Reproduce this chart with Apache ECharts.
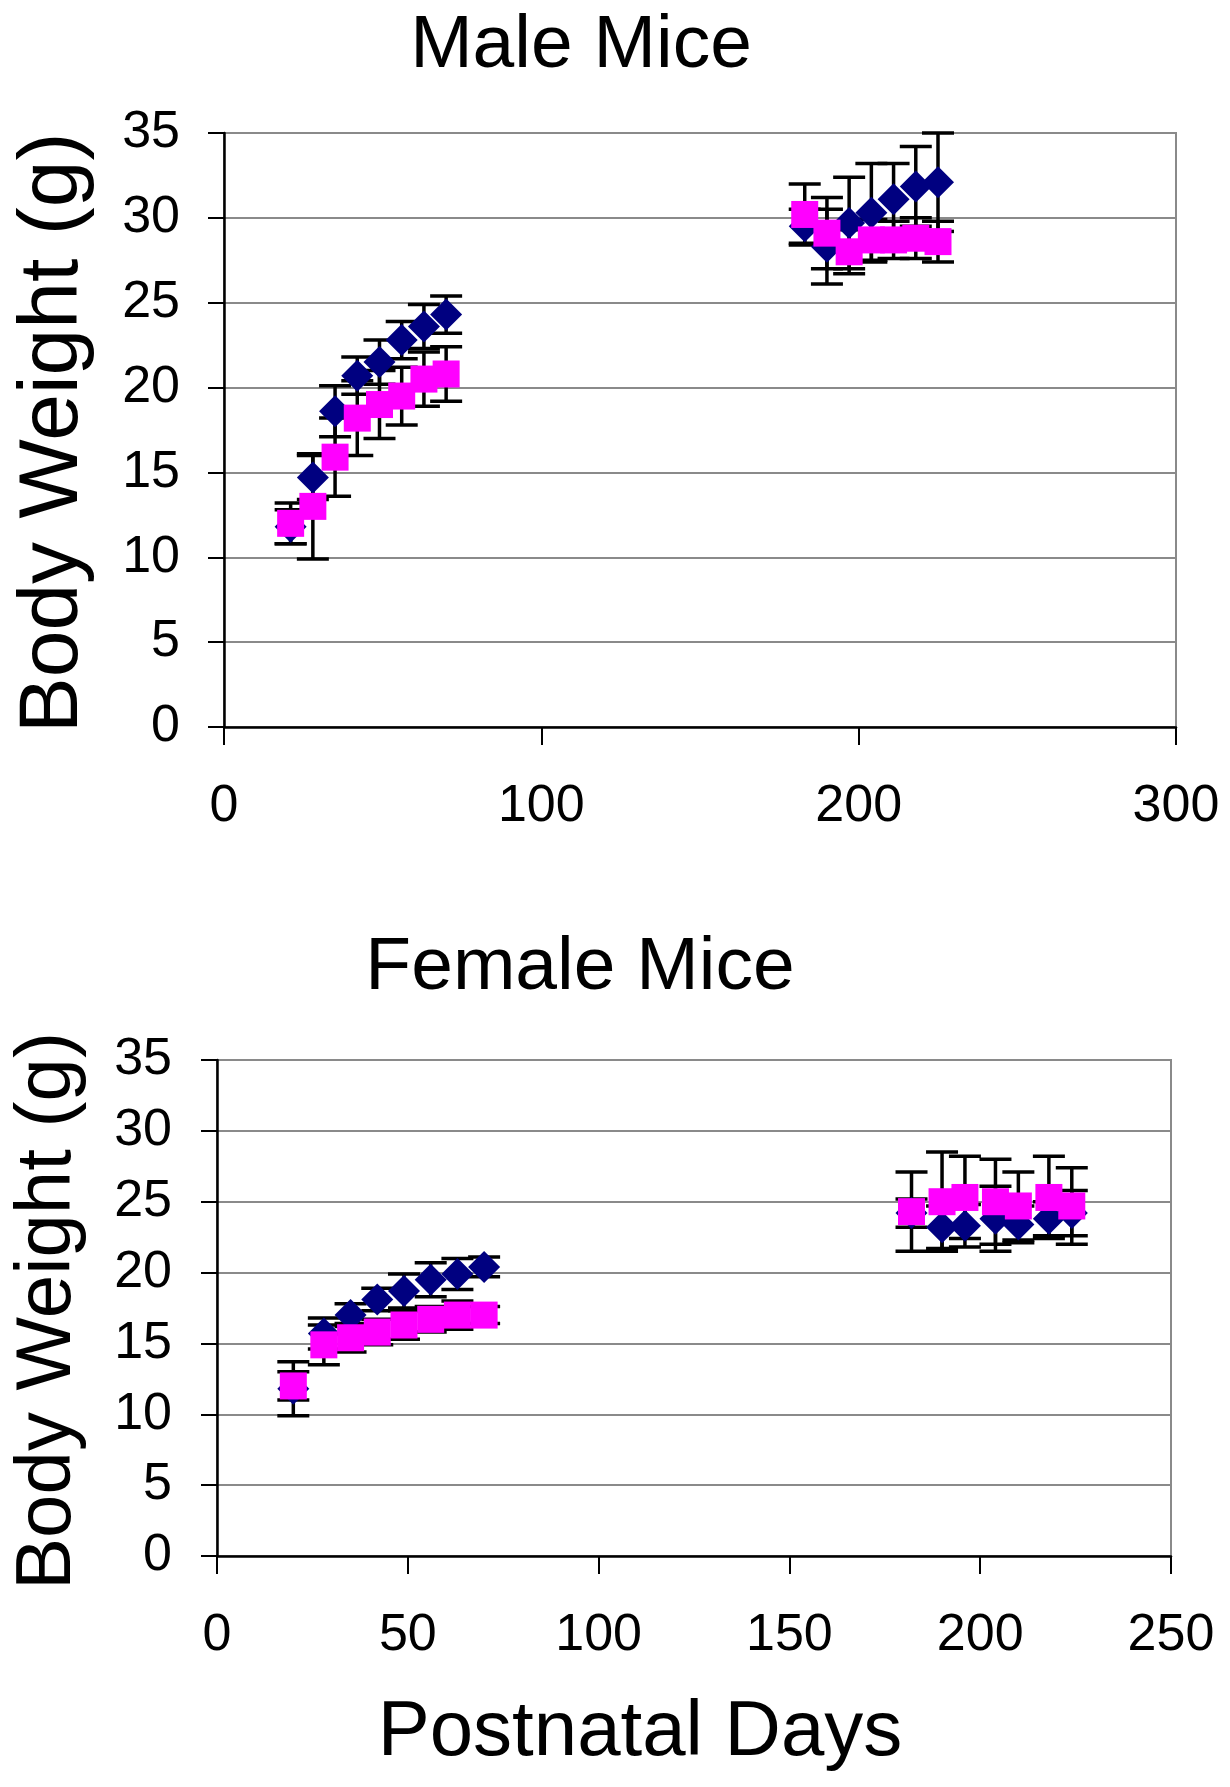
<!DOCTYPE html>
<html>
<head>
<meta charset="utf-8">
<script src="https://cdn.jsdelivr.net/npm/echarts@6/dist/echarts.min.js"></script>
<style>
  html, body { margin: 0; background: #fff; }
  #chart { width: 1230px; height: 1787px; }
</style>
</head>
<body>
<div id="chart"></div>
<script>
// male mice: postnatal day, mean weight (g) and error
const maleDays = [21, 28, 35, 42, 49, 56, 63, 70, 183, 190, 197, 204, 211, 218, 225];
const maleBlue = [11.8, 14.7, 18.6, 20.7, 21.5, 22.8, 23.6, 24.3, 29.5, 28.3, 29.7, 30.3, 31.1, 31.85, 32.1];
const maleBlueErr = [1.0, 1.3, 1.5, 1.1, 1.3, 1.1, 1.3, 1.1, 1.0, 2.2, 2.7, 2.9, 2.1, 2.35, 2.9];
const malePink = [12.0, 13.0, 15.9, 18.2, 19.0, 19.5, 20.5, 20.8, 30.2, 29.1, 28.0, 28.7, 28.7, 28.8, 28.6];
const malePinkErr = [1.2, 3.1, 2.3, 2.2, 2.0, 1.7, 1.6, 1.6, 1.8, 2.1, 1.3, 1.2, 1.1, 1.2, 1.2];

// female mice
const femaleDays = [20, 28, 35, 42, 49, 56, 63, 70, 182, 190, 196, 204, 210, 218, 224];
const femaleBlue = [11.8, 15.7, 17.0, 18.1, 18.7, 19.5, 19.9, 20.4, 24.2, 23.2, 23.3, 23.8, 23.4, 23.8, 24.2];
const femaleBlueErr = [1.9, 1.1, 0.8, 0.8, 1.2, 1.2, 1.1, 0.7, 1.0, 1.5, 1.5, 2.3, 1.3, 1.2, 1.6];
const femalePink = [12.0, 14.9, 15.4, 15.8, 16.3, 16.7, 17.0, 17.0, 24.3, 25.0, 25.3, 25.0, 24.7, 25.3, 24.7];
const femalePinkErr = [1.0, 1.4, 1.0, 0.9, 1.0, 0.9, 1.0, 0.6, 2.8, 3.5, 2.9, 3.0, 2.4, 2.9, 2.7];

const maleXTicks = [0, 100, 200, 300];
const femaleXTicks = [0, 50, 100, 150, 200, 250];
const yTicks = [0, 5, 10, 15, 20, 25, 30, 35];

const FONT = "'Liberation Sans', Arial, sans-serif";

function points(days, vals) {
  return days.map((d, i) => [d, vals[i]]);
}
function errRows(days, vals, err) {
  return days.map((d, i) => [d, vals[i] - err[i], vals[i] + err[i]]);
}

function renderErr(params, api) {
  const x = api.value(0);
  const top = api.coord([x, api.value(2)]);
  const bot = api.coord([x, api.value(1)]);
  const hw = 16;
  const style = { stroke: '#000', lineWidth: 3.5 };
  return {
    type: 'group',
    children: [
      { type: 'line', shape: { x1: top[0], y1: top[1], x2: bot[0], y2: bot[1] }, style: style },
      { type: 'line', shape: { x1: top[0] - hw, y1: top[1], x2: top[0] + hw, y2: top[1] }, style: style },
      { type: 'line', shape: { x1: bot[0] - hw, y1: bot[1], x2: bot[0] + hw, y2: bot[1] }, style: style }
    ]
  };
}

function errSeries(idx, days, vals, err) {
  return {
    type: 'custom',
    xAxisIndex: idx,
    yAxisIndex: idx,
    data: errRows(days, vals, err),
    encode: { x: 0, y: [1, 2] },
    renderItem: renderErr,
    clip: false,
    silent: true,
    z: 1
  };
}

function xAxis(idx, ticks) {
  return {
    type: 'value',
    gridIndex: idx,
    min: ticks[0],
    max: ticks[ticks.length - 1],
    interval: ticks[1] - ticks[0],
    axisLine: { show: true, onZero: false, lineStyle: { color: '#000', width: 2.5 } },
    axisTick: { show: true, inside: false, length: 18, lineStyle: { color: '#000', width: 2 } },
    axisLabel: { color: '#000', fontSize: 52, fontFamily: FONT, margin: 54 },
    splitLine: { show: false }
  };
}

function yAxis(idx, margin) {
  return {
    type: 'value',
    gridIndex: idx,
    min: yTicks[0],
    max: yTicks[yTicks.length - 1],
    interval: yTicks[1] - yTicks[0],
    axisLine: { show: true, onZero: false, lineStyle: { color: '#000', width: 2.5 } },
    axisTick: { show: true, inside: false, length: 16, lineStyle: { color: '#000', width: 2 } },
    axisLabel: { color: '#000', fontSize: 52, fontFamily: FONT, margin: margin },
    splitLine: { show: true, lineStyle: { color: '#8a8a8a', width: 2 } }
  };
}

const chart = echarts.init(document.getElementById('chart'), null, { renderer: 'canvas' });

chart.setOption({
  animation: false,
  backgroundColor: '#fff',
  grid: [
    { left: 224, right: 54, top: 133, bottom: 1787 - 727, show: true, borderColor: '#8a8a8a', borderWidth: 2 },
    { left: 217, right: 59, top: 1060, bottom: 1787 - 1556, show: true, borderColor: '#8a8a8a', borderWidth: 2 }
  ],
  xAxis: [xAxis(0, maleXTicks), xAxis(1, femaleXTicks)],
  yAxis: [yAxis(0, 44), yAxis(1, 45)],
  graphic: [
    { type: 'text', x: 581, y: 46, style: { text: 'Male Mice', font: '75px ' + FONT, fill: '#000', textAlign: 'center', textVerticalAlign: 'middle' } },
    { type: 'text', x: 580, y: 968, style: { text: 'Female Mice', font: '75px ' + FONT, fill: '#000', textAlign: 'center', textVerticalAlign: 'middle' } },
    { type: 'text', x: 54, y: 433, rotation: Math.PI / 2, style: { text: 'Body Weight (g)', font: '84px ' + FONT, fill: '#000', textAlign: 'center', textVerticalAlign: 'middle' } },
    { type: 'text', x: 48, y: 1311, rotation: Math.PI / 2, style: { text: 'Body Weight (g)', font: '78px ' + FONT, fill: '#000', textAlign: 'center', textVerticalAlign: 'middle' } },
    { type: 'text', x: 640, y: 1733, style: { text: 'Postnatal Days', font: '78px ' + FONT, fill: '#000', textAlign: 'center', textVerticalAlign: 'middle' } }
  ],
  series: [
    errSeries(0, maleDays, maleBlue, maleBlueErr),
    errSeries(0, maleDays, malePink, malePinkErr),
    errSeries(1, femaleDays, femaleBlue, femaleBlueErr),
    errSeries(1, femaleDays, femalePink, femalePinkErr),
    { type: 'scatter', xAxisIndex: 0, yAxisIndex: 0, data: points(maleDays, maleBlue), symbol: 'diamond', symbolSize: 32, itemStyle: { color: '#000080', opacity: 1 }, z: 2 },
    { type: 'scatter', xAxisIndex: 0, yAxisIndex: 0, data: points(maleDays, malePink), symbol: 'rect', symbolSize: 27, itemStyle: { color: '#ff00ff', opacity: 1 }, z: 3 },
    { type: 'scatter', xAxisIndex: 1, yAxisIndex: 1, data: points(femaleDays, femaleBlue), symbol: 'diamond', symbolSize: 32, itemStyle: { color: '#000080', opacity: 1 }, z: 2 },
    { type: 'scatter', xAxisIndex: 1, yAxisIndex: 1, data: points(femaleDays, femalePink), symbol: 'rect', symbolSize: 27, itemStyle: { color: '#ff00ff', opacity: 1 }, z: 3 }
  ]
});
</script>
</body>
</html>
